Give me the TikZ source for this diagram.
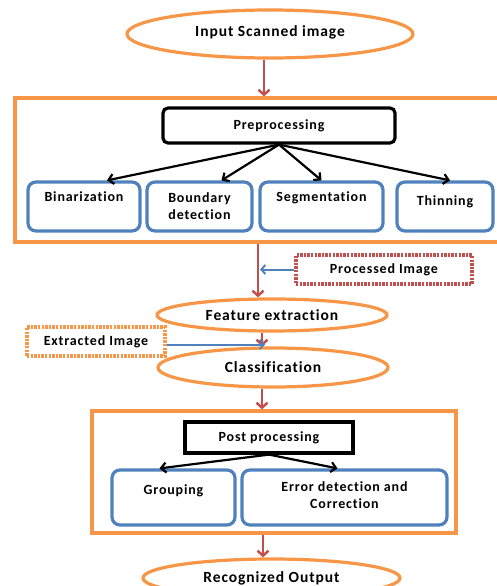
\documentclass[tikz,border=0pt]{standalone}
\usepackage{fontspec}
\setmainfont{Carlito}[LetterSpace=6,Ligatures={NoCommon}]
\usetikzlibrary{shapes.geometric,arrows.meta}
\definecolor{orng}{HTML}{F79646}
\definecolor{blu}{HTML}{4F81BD}
\definecolor{rd}{HTML}{C0504D}
\tikzset{
  txt/.style={font=\fontsize{14}{17}\selectfont\bfseries},
  oval/.style={ellipse,draw=orng,line width=3.2pt,inner sep=0pt,minimum width=#1,font=\fontsize{15.5}{18}\selectfont\bfseries},
  frm/.style={draw=orng,line width=3.2pt,inner sep=0pt},
  kbx/.style={draw=black,line width=3.2pt,inner sep=0pt,txt},
  bbx/.style={rounded corners=8pt,draw=blu,line width=3.2pt,inner xsep=0pt,inner ysep=0pt,align=center,minimum width=#1,txt},
  dbx/.style={draw=#1,line width=3.4pt,dash pattern=on 2.4pt off 1.2pt,inner sep=0pt,txt},
  flow/.style={-{Straight Barb[length=5pt,width=11pt]},rd,line width=2.5pt},
  flowb/.style={-{Straight Barb[length=4pt,width=9pt]},blu,line width=2pt},
  flowk/.style={-{Straight Barb[length=5pt,width=10pt]},black,line width=2.2pt},
}
\begin{document}
\begin{tikzpicture}[x=1pt,y=-1pt]
\useasboundingbox (0,0) rectangle (497,586);
\clip (0,0) rectangle (497,586);
\node[oval=286pt,minimum height=48pt,text depth=7pt,text height=12pt] (inp) at (270,34) {Input Scanned image};
% preprocessing block
\node[frm,minimum width=490pt,minimum height=144pt] (pre) at (260,170) {};
\node[kbx,rounded corners=5pt,minimum width=232pt,minimum height=35pt] (pp) at (279,125.5) {Preprocessing};
\node[bbx=112pt,text height=19pt,text depth=30pt] (bin) at (84,206.5) {Binarization};
\node[bbx=105pt,text height=37pt,text depth=12pt] (bnd) at (199.5,206.5) {Boundary\\detection};
\node[bbx=123pt,text height=19pt,text depth=30pt] (seg) at (321.5,206.5) {Segmentation};
\node[bbx=96pt,text height=23pt,text depth=26pt] (thn) at (445,206.5) {Thinning};
\foreach \n/\dx in {bin/23,bnd/22,seg/0,thn/5}
  \draw[flowk] (pp.south) -- ([xshift=\dx]\n.north);
% feature extraction and classification
\node[oval=230pt,minimum height=32pt] (feat) at (272,315) {Feature extraction};
\node[dbx=rd,minimum width=176pt,minimum height=29pt] (proc) at (384,269.5) {Processed Image};
\node[dbx=orng,minimum width=138pt,minimum height=29pt] (ext) at (96,341.5) {Extracted Image};
\node[oval=230pt,minimum height=39pt] (cls) at (273,367.5) {Classification};
% post processing block
\node[frm,minimum width=364pt,minimum height=122pt] (post) at (274,472) {};
\node[kbx,minimum width=168pt,minimum height=31pt] (pst) at (269,437.5) {Post processing};
\node[bbx=123pt,text height=24pt,text depth=31pt] (grp) at (173.5,497.5) {Grouping};
\node[bbx=205pt,text height=38pt,text depth=17pt] (err) at (344.5,497.5) {Error detection and\\Correction};
\draw[flowk] (pst.south) -- ([xshift=-14]grp.north);
\draw[flowk] (pst.south) -- ([xshift=-7]err.north);
\node[oval=257pt,minimum height=38pt] (rec) at (271.5,578) {Recognized Output};
% connectors
\coordinate (c1) at (264,0);
\coordinate (c2) at (258,0);
\coordinate (c3) at (262,0);
\coordinate (c4) at (263,0);
\draw[flow] (inp.south -| c1) -- (pre.north -| c1);
\draw[flow] (pre.south -| c2) -- (feat.north -| c2);
\draw[flowb] (proc.west) -- ([xshift=2]proc.west -| c2);
\draw[flow] (feat.south -| c3) -- (cls.north -| c3);
\draw[flowb] ([yshift=-3]ext.east) -- ([xshift=3,yshift=-3]ext.east -| c3);
\draw[flow] (cls.south -| c3) -- (post.north -| c3);
\draw[flow] (post.south -| c4) -- (rec.north -| c4);
\end{tikzpicture}
\end{document}
